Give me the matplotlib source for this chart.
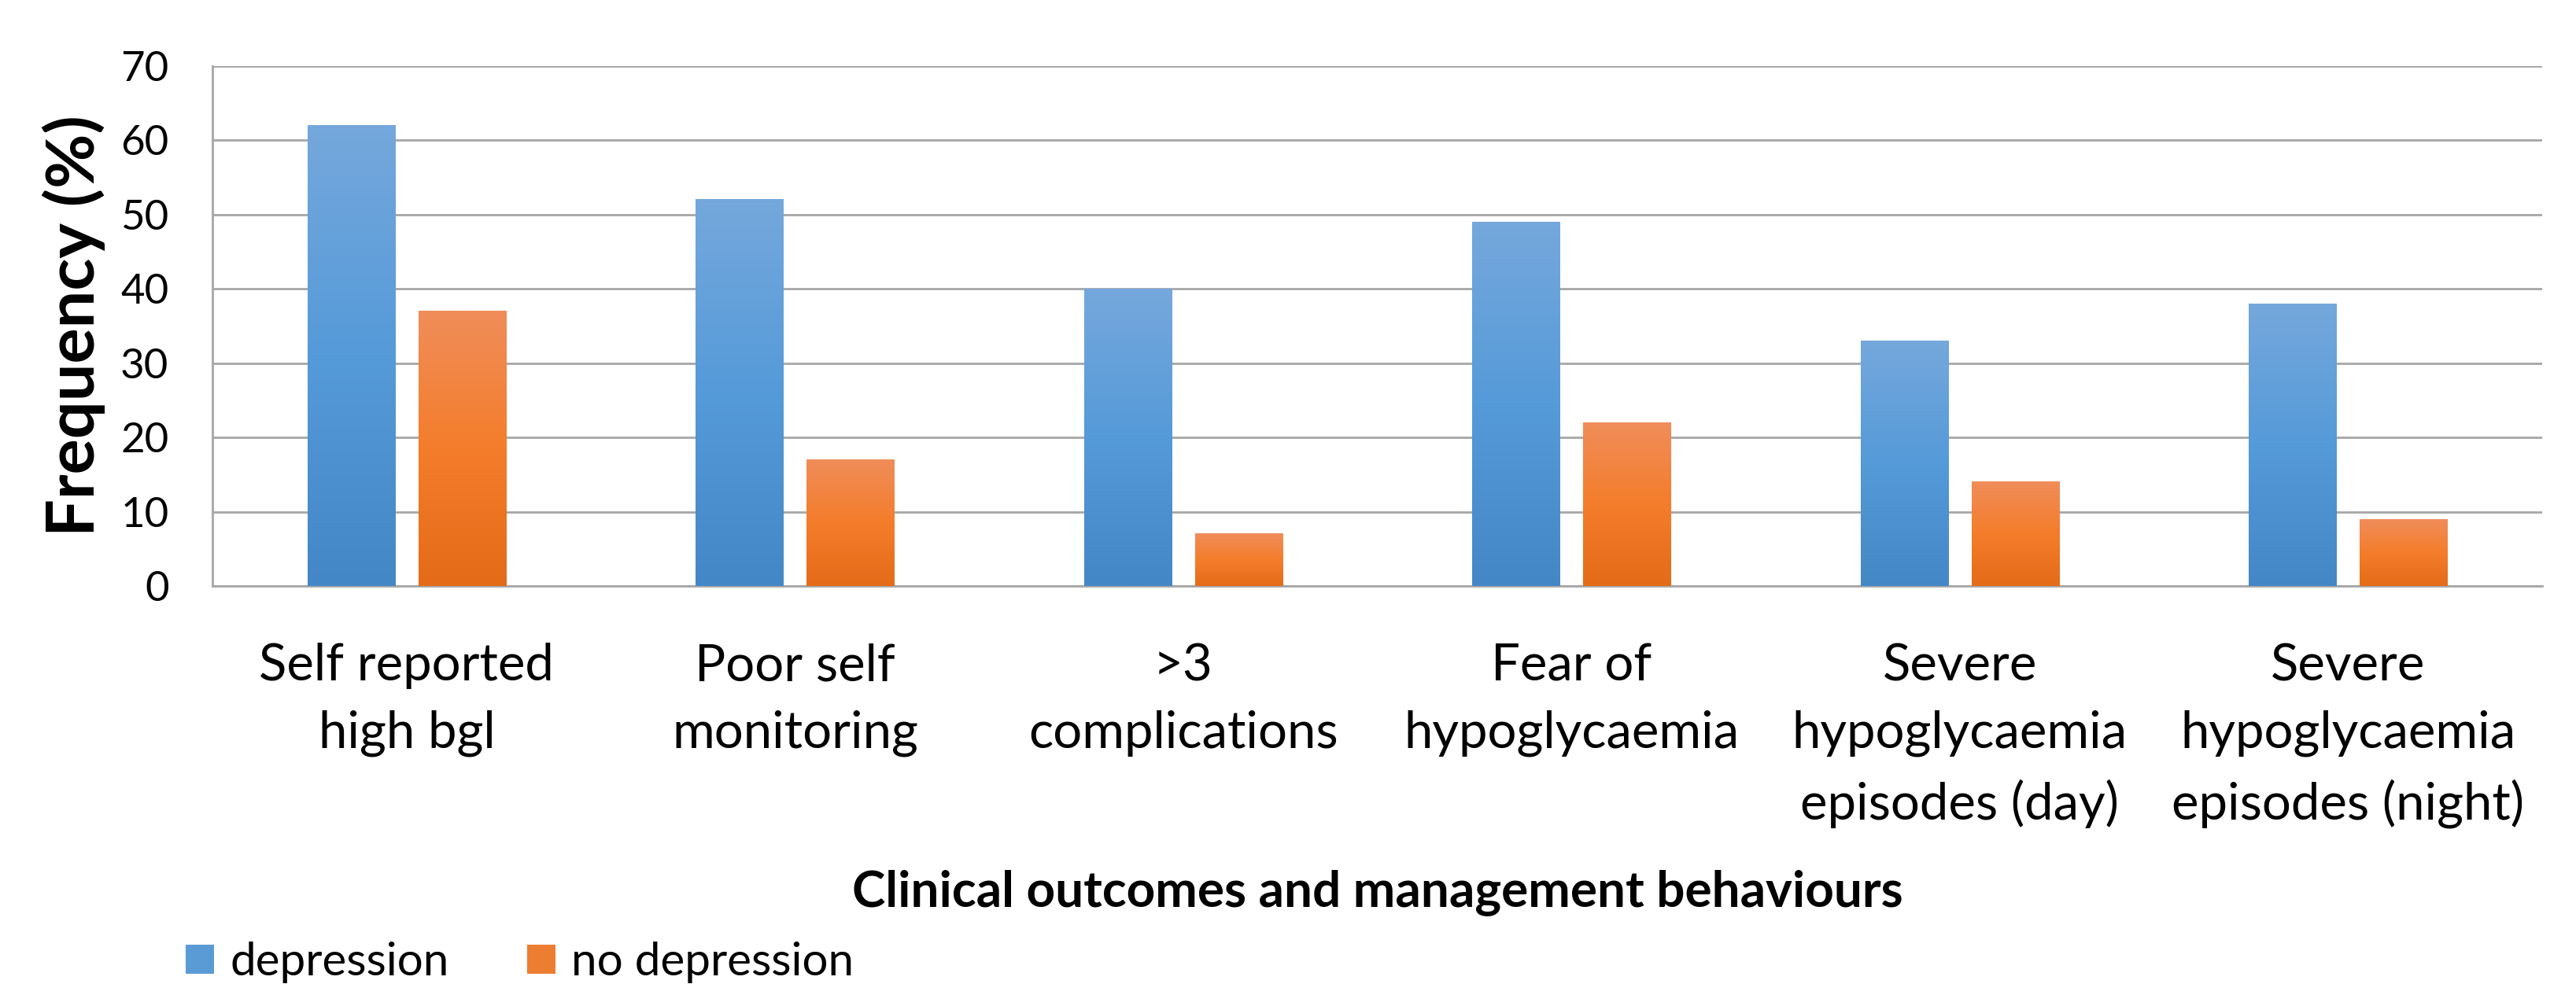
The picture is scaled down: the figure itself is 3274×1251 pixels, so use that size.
import numpy as np
import matplotlib
matplotlib.use('Agg')
import matplotlib.pyplot as plt
from matplotlib.colors import LinearSegmentedColormap
from matplotlib.patches import Patch

categories = ['Self reported\nhigh bgl', 'Poor self\nmonitoring', '>3\ncomplications',
              'Fear of\nhypoglycaemia', 'Severe\nhypoglycaemia\nepisodes (day)',
              'Severe\nhypoglycaemia\nepisodes (night)']
depression = [62, 52, 40, 49, 33, 38]
no_depression = [37, 17, 7, 22, 14, 9]
series_names = ['depression', 'no depression']

plt.rcParams['font.family'] = ['Lato', 'DejaVu Sans']

# gradients bottom -> top like the office style
blue_cmap = LinearSegmentedColormap.from_list('b', ['#4487C7', '#559AD9', '#75A8DC'])
orange_cmap = LinearSegmentedColormap.from_list('o', ['#E46B18', '#F47D2B', '#F08D5A'])

fig = plt.figure(figsize=(32.74, 12.51), dpi=100)
ax = fig.add_axes([0.0825, 0.4045, 0.9044, 0.5284])

x = np.arange(len(categories))
width = 0.225
offset = 0.143
grad = np.linspace(0, 1, 256).reshape(-1, 1)

for vals, sign, cmap in [(depression, -1, blue_cmap), (no_depression, 1, orange_cmap)]:
    bars = ax.bar(x + sign * offset, vals, width, color='none', zorder=3)
    for b in bars:
        x0, y0 = b.get_x(), b.get_y()
        ax.imshow(grad, extent=[x0, x0 + b.get_width(), y0, y0 + b.get_height()],
                  origin='lower', aspect='auto', cmap=cmap, zorder=3)

ax.set_xlim(-0.5, len(categories) - 0.5)
ax.set_ylim(0, 70)
ax.set_yticks(range(0, 71, 10))
ax.set_xticks(x)
ax.set_xticklabels(categories, fontsize=47, linespacing=1.55)
ax.tick_params(axis='y', labelsize=38, length=0, pad=40)
ax.tick_params(axis='x', length=0, pad=52)
ax.grid(axis='y', color='#A6A6A6', linewidth=2, zorder=0)
ax.set_axisbelow(True)
for s in ['top', 'right']:
    ax.spines[s].set_visible(False)
for s in ['left', 'bottom']:
    ax.spines[s].set_color('#A6A6A6')
    ax.spines[s].set_linewidth(2)

ax.set_ylabel('Frequency (%)', fontsize=61, fontweight='bold')
ax.yaxis.set_label_coords(-0.046, 0.5)
ax.set_xlabel('Clinical outcomes and management behaviours', fontsize=46, fontweight='bold')
ax.xaxis.set_label_coords(0.5, -0.545)

handles = [Patch(facecolor='#5B9BD5'), Patch(facecolor='#ED7D31')]
fig.legend(handles, series_names, loc='center left', bbox_to_anchor=(0.072, 0.022),
           ncol=2, frameon=False, fontsize=42, handlelength=0.62, handleheight=0.62,
           handletextpad=0.35, columnspacing=1.7, borderpad=0, borderaxespad=0)

fig.savefig('out.png', dpi=100)
